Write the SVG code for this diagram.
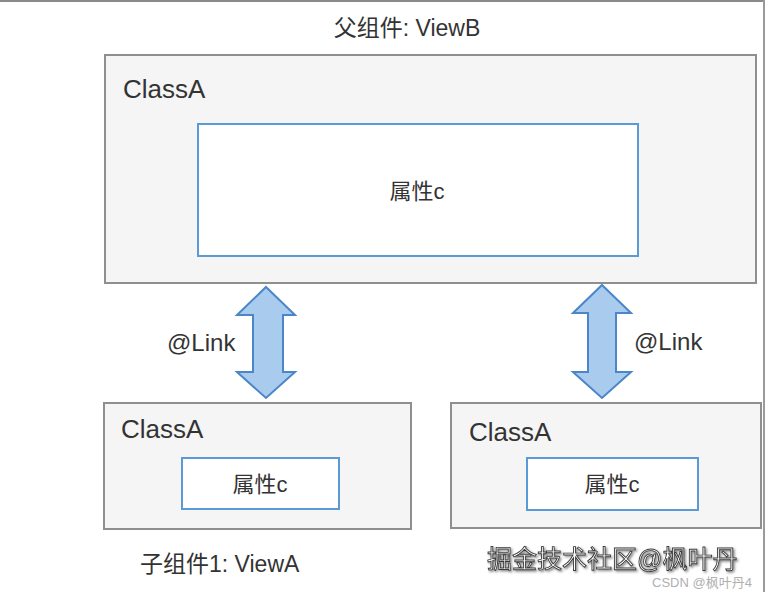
<svg xmlns="http://www.w3.org/2000/svg" width="765" height="592" viewBox="0 0 765 592">
<defs>
<filter id="sh" x="-5%" y="-20%" width="110%" height="140%">
<feDropShadow dx="1.5" dy="1.5" stdDeviation="0.8" flood-color="#555555" flood-opacity="0.7"/>
</filter>
</defs>
<style>
.outer{fill:#f5f5f5;stroke:#8f8f8f;stroke-width:2}
.inner{fill:#ffffff;stroke:#5b9bd5;stroke-width:2}
.t{font-family:"Liberation Sans","Noto Sans CJK SC",sans-serif;fill:#333333}
.arrow{fill:#a9cbee;stroke:#4a86c8;stroke-width:2;stroke-linejoin:miter}
</style>
<rect x="0" y="0" width="765" height="592" fill="#ffffff"/>
<rect x="0" y="0" width="765" height="2" fill="#8a8a8a"/>
<rect x="763" y="0" width="2" height="592" fill="#9a9a9a"/>
<text class="t" x="407" y="36" font-size="23" text-anchor="middle">父组件: ViewB</text>
<g id="parent">
<rect class="outer" x="105" y="55" width="651" height="228"/>
<text class="t" x="123" y="98" font-size="26">ClassA</text>
<g id="parent-prop">
<rect class="inner" x="198" y="124" width="440" height="132"/>
<text class="t" x="417" y="199" font-size="22" text-anchor="middle">属性c</text>
</g>
</g>
<g id="child1">
<rect class="outer" x="104" y="403" width="307" height="126"/>
<text class="t" x="121" y="438" font-size="26">ClassA</text>
<g id="child1-prop">
<rect class="inner" x="182" y="458" width="157" height="51"/>
<text class="t" x="260" y="492" font-size="22" text-anchor="middle">属性c</text>
</g>
</g>
<text class="t" x="140" y="572" font-size="23">子组件1: ViewA</text>
<g id="child2">
<rect class="outer" x="451" y="403" width="310" height="125"/>
<text class="t" x="469" y="441" font-size="26">ClassA</text>
<g id="child2-prop">
<rect class="inner" x="527" y="458" width="171" height="52"/>
<text class="t" x="612" y="492" font-size="22" text-anchor="middle">属性c</text>
</g>
</g>
<g id="connectors">
<path class="arrow" d="M266,287 L295,315 L283,315 L283,372 L295,372 L266,398 L237,372 L253,372 L253,315 L237,315 Z"/>
<text class="t" x="167" y="351" font-size="24">@Link</text>
<path class="arrow" d="M602,285 L631,313 L616,313 L616,372 L631,372 L602,398 L573,372 L588,372 L588,313 L573,313 Z"/>
<text class="t" x="634" y="350" font-size="24">@Link</text>
</g>
<text class="t" x="487" y="568" font-size="25" filter="url(#sh)" style="fill:#ffffff;stroke:#3a3a3a;stroke-width:0.9">掘金技术社区@枫叶丹</text>
<text class="t" x="652" y="587" font-size="13" style="fill:#b0b0b0">CSDN @枫叶丹4</text>
</svg>
